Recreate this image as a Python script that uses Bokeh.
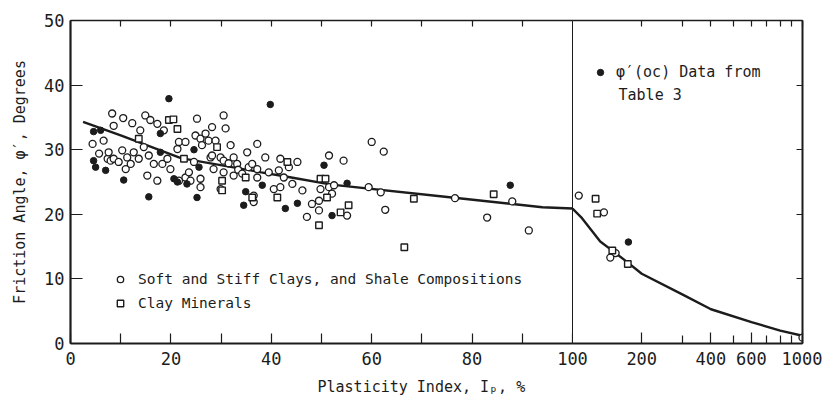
from bokeh.plotting import figure
from bokeh.models import (FixedTicker, LinearAxis, LogAxis, Range1d, ColumnDataSource, Legend,
                          LegendItem, Label, Title, NumeralTickFormatter, CustomLabelingPolicy)
from bokeh.layouts import row
from bokeh.embed import file_html
from bokeh.resources import INLINE

FONT = "DejaVu Sans Mono"
INK = "#1c1c1c"

# ---- data (Plasticity index Ip %, friction angle phi' degrees) ----
soft_ip = [4.4, 5.7, 6.6, 7.4, 7.6, 8.0, 8.3, 8.6, 8.6, 9.6, 10.3, 10.5, 11.0, 11.3, 12.0, 12.3,
           12.6, 13.6, 13.9, 14.9, 15.9, 17.3, 14.6, 15.6, 15.3, 16.6, 17.3, 18.3, 18.6, 19.3,
           19.9, 21.3, 21.6, 21.6, 22.9, 22.9, 23.6, 23.9, 24.6, 24.9, 25.2, 25.9, 25.9, 25.9,
           26.2, 26.9, 27.5, 27.9, 28.2, 28.2, 28.5, 28.9, 29.9, 29.9, 30.5, 30.5, 30.5, 30.9,
           31.5, 31.9, 32.5, 32.5, 33.2, 33.4, 34.2, 35.2, 35.5, 36.2, 36.5, 36.5, 37.2, 37.2,
           37.2, 38.8, 39.5, 40.5, 41.5, 41.8, 41.8, 42.5, 43.5, 44.2, 45.2, 46.2, 47.1, 48.1,
           49.5, 49.5, 49.8, 51.5, 51.5, 52.1, 52.5, 54.4, 55.1, 59.4, 60.0, 61.8, 62.4, 62.7,
           76.6, 83.0, 88.0, 91.3,
           106.5, 137, 154, 146, 1000]
soft_phi = [30.9, 29.4, 31.4, 28.6, 29.6, 28.3, 35.6, 33.7, 28.6, 28.1, 29.9, 34.9, 27.0, 28.8, 27.8, 34.1,
            29.6, 28.6, 33.0, 35.3, 34.6, 34.0, 30.4, 29.1, 26.0, 27.8, 25.2, 27.8, 33.0, 28.6,
            27.0, 30.1, 31.2, 25.2, 25.7, 31.2, 26.5, 25.2, 28.1, 32.2, 34.8, 31.7, 25.5, 24.2,
            30.7, 32.5, 31.4, 28.8, 33.5, 29.1, 27.0, 31.4, 28.8, 23.9, 35.3, 28.3, 26.5, 33.3,
            27.9, 30.7, 28.8, 26.0, 27.8, 26.9, 26.3, 29.6, 27.3, 27.8, 22.9, 21.9, 30.9, 27.0,
            25.7, 28.8, 26.5, 23.9, 26.8, 28.6, 24.2, 25.7, 27.3, 24.7, 28.1, 23.7, 19.6, 21.6,
            22.1, 20.6, 23.9, 29.1, 24.2, 23.2, 24.5, 28.3, 19.8, 24.2, 31.2, 23.4, 29.7, 20.7,
            22.5, 19.5, 22.0, 17.5,
            22.9, 20.3, 14.0, 13.3, 0.9]

clay_ip = [19.6, 20.5, 21.3, 13.6, 22.6, 29.2, 30.2, 30.2, 34.9, 36.2, 41.2, 43.2, 49.8, 50.8,
           51.1, 49.5, 53.8, 55.4, 68.4, 84.3, 66.5,
           126, 128, 149, 174]
clay_phi = [34.6, 34.7, 33.2, 31.7, 28.6, 30.4, 25.2, 23.7, 25.7, 22.6, 22.6, 28.1, 25.5, 25.5,
            22.6, 18.3, 20.3, 21.4, 22.4, 23.1, 14.9,
            22.4, 20.1, 14.4, 12.3]

oc_ip = [4.6, 6.0, 4.6, 5.0, 7.0, 10.6, 15.6, 17.9, 17.9, 19.6, 20.6, 21.3, 23.2, 24.6, 25.6,
         25.2, 34.5, 34.9, 38.2, 39.8, 42.8, 45.2, 50.5, 52.1, 55.1, 87.6, 175]
oc_phi = [32.8, 33.0, 28.3, 27.3, 26.8, 25.3, 22.7, 32.5, 29.6, 37.9, 25.5, 25.0, 24.7, 30.0, 27.3,
          22.6, 21.4, 23.5, 24.5, 37.0, 20.9, 21.7, 27.6, 19.8, 24.8, 24.5, 15.7]

trend_ip = [2.5, 10, 22, 38, 44, 52, 76, 94, 100, 110, 132, 150, 173, 200, 300, 400, 600, 800, 1000]
trend_phi = [34.3, 32.2, 28.7, 26.5, 25.7, 24.6, 22.6, 21.1, 20.9, 19.4, 15.8, 14.3, 12.6, 10.8,
             7.6, 5.3, 3.3, 2.0, 1.2]

lin_ticks = [0, 20, 40, 60, 80, 100]
lin_minor = [10, 30, 50, 70, 90]
log_ticks = [200, 400, 600, 1000]
log_minor = [300, 500, 700, 800, 900]
y_ticks = [0, 10, 20, 30, 40, 50]

x_title = "Plasticity Index, Iₚ, %"
y_title = "Friction Angle, φ′, Degrees"
soft_label = "Soft and Stiff Clays, and Shale Compositions"
clay_label = "Clay Minerals"
oc_label = "φ′(oc) Data from"
oc_label2 = "Table 3"


def part(xs, ys, lo, hi):
    px, py = [], []
    for a, b in zip(xs, ys):
        if lo <= a <= hi:
            px.append(a)
            py.append(b)
    return ColumnDataSource(dict(x=px, y=py))


def style_axis(ax, tin, minor_in=None, labels=True, width=1.5):
    ax.axis_line_color = INK
    ax.axis_line_width = width
    ax.major_tick_in = tin
    ax.major_tick_out = 0
    ax.minor_tick_in = tin if minor_in is None else minor_in
    ax.minor_tick_out = 0
    ax.major_tick_line_color = INK
    ax.minor_tick_line_color = INK
    ax.major_tick_line_width = 1.2
    ax.minor_tick_line_width = 1.2
    if labels:
        ax.major_label_text_font = FONT
        ax.major_label_text_font_size = "17px"
        ax.major_label_text_color = INK
    else:
        ax.major_label_text_font_size = "1px"
        ax.major_label_standoff = 0
        ax.major_label_policy = CustomLabelingPolicy(code="return [];")


y_range = Range1d(0, 50)

# ---------------- left (linear) panel ----------------
left = figure(width=592, height=405, x_range=Range1d(0, 100), y_range=y_range,
              output_backend="svg", toolbar_location=None,
              min_border_left=70, min_border_right=20, min_border_top=20, min_border_bottom=62)
left.grid.visible = False
left.outline_line_color = INK
left.outline_line_width = 1

xa = left.xaxis[0]
xa.ticker = FixedTicker(ticks=lin_ticks, minor_ticks=lin_minor)
style_axis(xa, 10, width=2.2)
xa.major_label_standoff = 8

ya = left.yaxis[0]
ya.ticker = FixedTicker(ticks=y_ticks, minor_ticks=[])
style_axis(ya, 12, width=2.2)
ya.major_label_standoff = 6
ya.axis_label = y_title
ya.axis_label_text_font = FONT
ya.axis_label_text_font_size = "15px"
ya.axis_label_text_font_style = "normal"
ya.axis_label_text_color = INK
ya.axis_label_standoff = 12

top_l = LinearAxis(ticker=FixedTicker(ticks=lin_minor + [20, 40, 60, 80], minor_ticks=[]))
style_axis(top_l, 6, labels=False, width=1.5)
left.add_layout(top_l, "above")

left.line("x", "y", source=part(trend_ip, trend_phi, 0, 100), line_color=INK, line_width=2.4)
r_soft = left.scatter("x", "y", source=part(soft_ip, soft_phi, 0, 100), marker="circle", size=7,
                      fill_color="white", line_color=INK, line_width=1.3)
r_clay = left.scatter("x", "y", source=part(clay_ip, clay_phi, 0, 100), marker="square", size=6.5,
                      fill_color="white", line_color=INK, line_width=1.4)
left.scatter("x", "y", source=part(oc_ip, oc_phi, 0, 100), marker="circle", size=6.5,
             fill_color=INK, line_color=INK, line_width=1)

leg1 = Legend(items=[LegendItem(label=soft_label, renderers=[r_soft]),
                     LegendItem(label=clay_label, renderers=[r_clay])],
              location=(42, 31), padding=0, margin=0, spacing=6, glyph_width=16, glyph_height=16,
              label_height=18, label_standoff=10, background_fill_alpha=0, border_line_color=None,
              label_text_font=FONT, label_text_font_size="14.5px", label_text_color=INK)
left.add_layout(leg1)

left.add_layout(Title(text=x_title, align="left", offset=247, standoff=17,
                      text_font=FONT, text_font_size="15px", text_font_style="normal",
                      text_color=INK), "below")

# ---------------- right (log) panel ----------------
right = figure(width=250, height=405, x_range=Range1d(100, 1000), y_range=y_range,
               x_axis_type="log", y_axis_location=None,
               output_backend="svg", toolbar_location=None,
               min_border_left=0, min_border_right=20, min_border_top=20, min_border_bottom=62)
right.margin = (0, 0, 0, -20)
right.border_fill_color = None
right.grid.visible = False
right.outline_line_color = INK
right.outline_line_width = 1

rx = right.xaxis[0]
rx.ticker = FixedTicker(ticks=log_ticks, minor_ticks=log_minor)
rx.formatter = NumeralTickFormatter(format="0")
style_axis(rx, 11, minor_in=8, width=2.2)
rx.major_label_standoff = 8

ry = LinearAxis(ticker=FixedTicker(ticks=[10, 20, 30, 40], minor_ticks=[]))
style_axis(ry, 6, labels=False, width=2.0)
right.add_layout(ry, "right")

top_r = LogAxis(ticker=FixedTicker(ticks=log_ticks + log_minor, minor_ticks=[]))
style_axis(top_r, 6, labels=False, width=1.5)
right.add_layout(top_r, "above")

right.line("x", "y", source=part(trend_ip, trend_phi, 100, 1000), line_color=INK, line_width=2.4)
right.scatter("x", "y", source=part(soft_ip, soft_phi, 100.5, 1000), marker="circle", size=7,
              fill_color="white", line_color=INK, line_width=1.3)
right.scatter("x", "y", source=part(clay_ip, clay_phi, 100.5, 1000), marker="square", size=6.5,
              fill_color="white", line_color=INK, line_width=1.4)
r_oc = right.scatter("x", "y", source=part(oc_ip, oc_phi, 100.5, 1000), marker="circle", size=6.5,
                     fill_color=INK, line_color=INK, line_width=1)

leg2 = Legend(items=[LegendItem(label=oc_label, renderers=[r_oc])],
              location=(20, 262), padding=0, margin=0, glyph_width=16, glyph_height=16,
              label_height=18, label_standoff=8, background_fill_alpha=0, border_line_color=None,
              label_text_font=FONT, label_text_font_size="15px", label_text_color=INK)
right.add_layout(leg2)
right.add_layout(Label(x=158.5, y=38.4, text=oc_label2, text_align="left", text_baseline="middle",
                       text_font=FONT, text_font_size="15px", text_color=INK))

layout = row(left, right)
open("out.html", "w").write(file_html(layout, INLINE))
